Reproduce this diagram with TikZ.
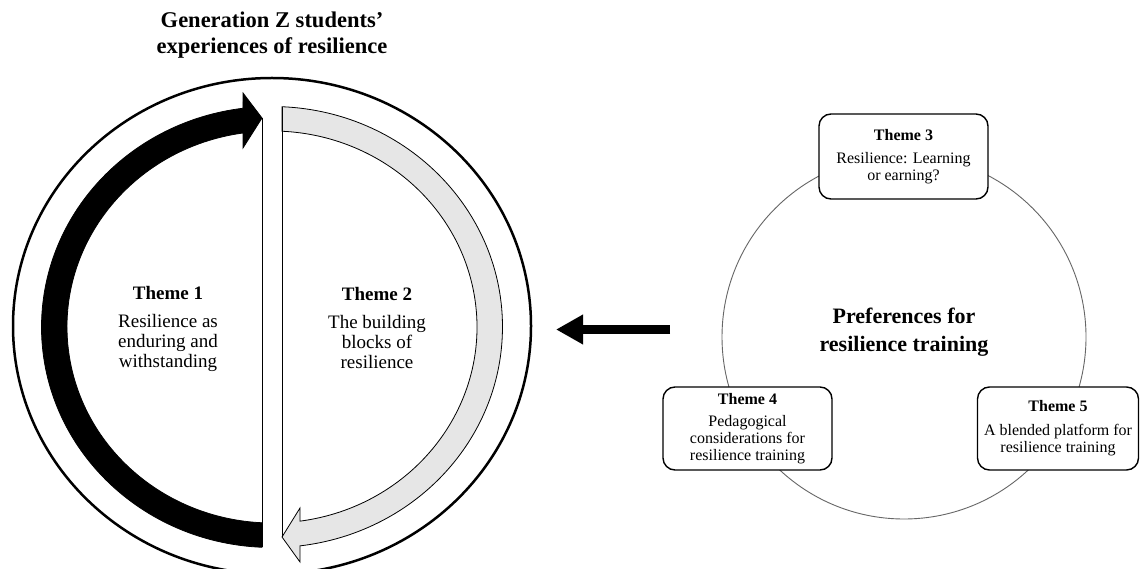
\documentclass[tikz,border=0pt]{standalone}
\usepackage{fontspec}
\setmainfont{Liberation Serif}
\usetikzlibrary{arrows.meta}
\definecolor{bandgray}{HTML}{E6E6E6}
\definecolor{ringgray}{HTML}{666666}
\begin{document}
\begin{tikzpicture}[x=1pt,y=1pt]
\tikzset{
  band/.style={draw=black, line width=0.8pt, line join=miter},
  sepline/.style={draw=black, line width=0.8pt},
  themebox/.style={draw=black, line width=1.4pt, rounded corners=12pt, fill=white,
    align=center, inner sep=0pt, font=\fontsize{16}{17}\selectfont},
  themetxt/.style={align=center, inner sep=0pt, font=\fontsize{19}{20}\selectfont},
  headtxt/.style={align=center, inner sep=0pt, font=\bfseries\fontsize{22.5}{26}\selectfont},
  bigarrow/.style={line width=9pt, -{Triangle[length=27pt,width=28pt]}},
}
\useasboundingbox (0,0) rectangle (1140,568);
\fill[white] (0,0) rectangle (1140,568);

% ---- left figure ----
\coordinate (C) at (272,241);
\node[headtxt] (title) at (272,533) {Generation Z students’\\experiences of resilience};
\draw[line width=2.5pt] (272,242) ellipse [x radius=259pt, y radius=248pt];

% black arrow band (Theme 1)
\path[band, fill=black]
  ([shift={(C)}]267.51:230.5pt and 220.5pt)
  arc[start angle=267.51, end angle=97.23, x radius=230.5pt, y radius=220.5pt]
  -- (243,475) -- (262,450) -- (243,420)
  -- ([shift={(C)}]98.13:205pt and 196pt)
  arc[start angle=98.13, end angle=267.2, x radius=205pt, y radius=196pt]
  -- cycle;

% grey arrow band (Theme 2)
\path[band, fill=bandgray]
  ([shift={(C)}]87.51:230.5pt and 220.5pt)
  arc[start angle=87.51, end angle=-83.02, x radius=230.5pt, y radius=220.5pt]
  -- (300,6) -- (282,31) -- (300,60)
  -- ([shift={(C)}]-82.15:205pt and 196pt)
  arc[start angle=-82.15, end angle=87.2, x radius=205pt, y radius=196pt]
  -- cycle;

\coordinate (l1a) at (262,450);
\coordinate (l1b) at (262,20.7);
\coordinate (l2a) at (282,461.3);
\coordinate (l2b) at (282,31);
\draw[sepline] (l1a) -- (l1b);
\draw[sepline] (l2a) -- (l2b);

\node[themetxt] (t1) at (168,239.5) {\textbf{Theme 1}\\[8pt]Resilience as\\enduring and\\withstanding};
\node[themetxt] (t2) at (377,239.5) {\textbf{Theme 2}\\[8pt]The building\\blocks of\\resilience};

% ---- arrow ----
\coordinate (aS) at (670,238.5);
\coordinate (aE) at (556,238.5);
\draw[bigarrow] (aS) -- (aE);

% ---- right figure ----
\node[circle, draw=ringgray, line width=0.9pt, minimum size=364pt, inner sep=0pt] (ring) at (904,231) {};
\node[headtxt, font=\bfseries\fontsize{22}{28}\selectfont] (pref) at (904,236) {Preferences for\\resilience training};

\node[themebox, minimum width=169pt, minimum height=85pt] (t3) at (903.5,411.5)
  {\textbf{Theme 3}\\[6pt]Resilience: Learning\\or earning?};
\node[themebox, minimum width=169pt, minimum height=83pt] (t4) at (747.5,139.5)
  {\textbf{Theme 4}\\[5pt]Pedagogical\\considerations for\\resilience training};
\node[themebox, minimum width=161pt, minimum height=83pt] (t5) at (1058,139.5)
  {\textbf{Theme 5}\\[7pt]A blended platform for\\resilience training};
\end{tikzpicture}
\end{document}
